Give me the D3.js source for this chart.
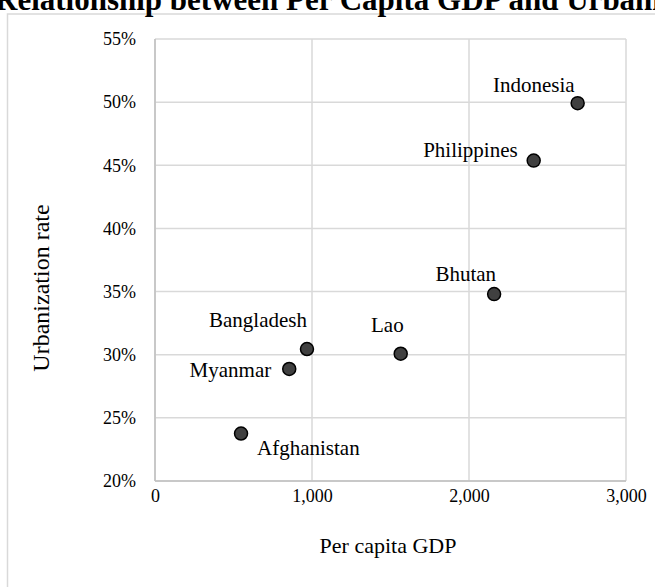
<!DOCTYPE html>
<html>
<head>
<meta charset="utf-8">
<script src="https://cdn.jsdelivr.net/npm/d3@7/dist/d3.min.js"></script>
<style>
  html, body { margin: 0; padding: 0; background: #fff; overflow: hidden; }
  svg { display: block; font-family: "Liberation Serif", "Times New Roman", serif; }
</style>
</head>
<body>
<svg id="chart" width="655" height="587"></svg>
<script>
// Per capita GDP (USD) and urbanization rate by country
const countries = ["Afghanistan", "Myanmar", "Bangladesh", "Lao", "Bhutan", "Philippines", "Indonesia"];
const gdpPerCapita = [548, 855, 968, 1565, 2160, 2412, 2692];
const urbanRate = [0.2376, 0.2887, 0.3045, 0.3008, 0.3480, 0.4537, 0.4992];
const xTicks = [0, 1000, 2000, 3000];
const yTicks = [0.20, 0.25, 0.30, 0.35, 0.40, 0.45, 0.50, 0.55];

const svg = d3.select("#chart");
const W = 655, H = 587;
const plot = { left: 155, right: 626, top: 39, bottom: 481 };

// outer chart frame
svg.append("rect")
  .attr("x", 7.5).attr("y", 14)
  .attr("width", W + 20).attr("height", H + 20)
  .attr("fill", "#fff")
  .attr("stroke", "#d9d9d9").attr("stroke-width", 1.5);

// title (wider than the frame, so it runs off both sides)
svg.append("text")
  .attr("x", -5).attr("y", 10)
  .attr("font-size", 31).attr("font-weight", "bold")
  .attr("fill", "#000")
  .text("Relationship between Per Capita GDP and Urbanization Rate");

const x = d3.scaleLinear().domain([0, 3000]).range([plot.left, plot.right]);
const y = d3.scaleLinear().domain([0.20, 0.55]).range([plot.bottom, plot.top]);

// gridlines
const grid = svg.append("g");
grid.selectAll("line.v").data(xTicks).join("line")
  .attr("class", "v")
  .attr("x1", d => x(d)).attr("x2", d => x(d))
  .attr("y1", plot.top).attr("y2", plot.bottom)
  .attr("stroke", "#d9d9d9").attr("stroke-width", 1.5);
grid.selectAll("line.h").data(yTicks).join("line")
  .attr("class", "h")
  .attr("x1", plot.left).attr("x2", plot.right)
  .attr("y1", d => y(d)).attr("y2", d => y(d))
  .attr("stroke", "#d9d9d9").attr("stroke-width", 1.5);

// axes (labels only; lines are drawn separately)
const xAxis = svg.append("g")
  .attr("transform", `translate(0,${plot.bottom})`)
  .call(d3.axisBottom(x).tickValues(xTicks).tickFormat(d3.format(",")).tickSize(0).tickPadding(8));
const yAxis = svg.append("g")
  .attr("transform", `translate(${plot.left},0)`)
  .call(d3.axisLeft(y).tickValues(yTicks).tickFormat(d3.format(".0%")).tickSize(0).tickPadding(19));
[xAxis, yAxis].forEach(a => {
  a.select(".domain").remove();
  a.selectAll("text")
    .attr("font-family", "Liberation Serif, Times New Roman, serif")
    .attr("font-size", 18).attr("fill", "#000");
});
svg.append("line")
  .attr("x1", plot.left).attr("x2", plot.left)
  .attr("y1", plot.top).attr("y2", plot.bottom)
  .attr("stroke", "#bfbfbf").attr("stroke-width", 1.5);
svg.append("line")
  .attr("x1", plot.left).attr("x2", plot.right)
  .attr("y1", plot.bottom).attr("y2", plot.bottom)
  .attr("stroke", "#bfbfbf").attr("stroke-width", 1.5);

// axis titles
svg.append("text")
  .attr("x", 388).attr("y", 553)
  .attr("text-anchor", "middle").attr("font-size", 22).attr("fill", "#000")
  .text("Per capita GDP");
svg.append("text")
  .attr("transform", "translate(49,288) rotate(-90)")
  .attr("text-anchor", "middle").attr("font-size", 24).attr("fill", "#000")
  .text("Urbanization rate");

// markers
const pts = countries.map((c, i) => ({ name: c, gdp: gdpPerCapita[i], rate: urbanRate[i] }));
svg.append("g").selectAll("circle").data(pts).join("circle")
  .attr("cx", d => x(d.gdp)).attr("cy", d => y(d.rate))
  .attr("r", 6.5)
  .attr("fill", "#404040").attr("stroke", "#000").attr("stroke-width", 1.5);

// data labels, each placed beside its marker
const placement = {
  Indonesia:   { dx: -3,  dy: -11, anchor: "end" },
  Philippines: { dx: -16, dy: -4,  anchor: "end" },
  Bhutan:      { dx: 2,   dy: -13, anchor: "end" },
  Lao:         { dx: 3,   dy: -22, anchor: "end" },
  Bangladesh:  { dx: 0,   dy: -22, anchor: "end" },
  Myanmar:     { dx: -18, dy: 8,   anchor: "end" },
  Afghanistan: { dx: 16,  dy: 21,  anchor: "start" }
};
svg.append("g").selectAll("text").data(pts).join("text")
  .attr("x", d => x(d.gdp) + placement[d.name].dx)
  .attr("y", d => y(d.rate) + placement[d.name].dy)
  .attr("text-anchor", d => placement[d.name].anchor)
  .attr("font-size", 21).attr("fill", "#000")
  .text(d => d.name);
</script>
</body>
</html>
